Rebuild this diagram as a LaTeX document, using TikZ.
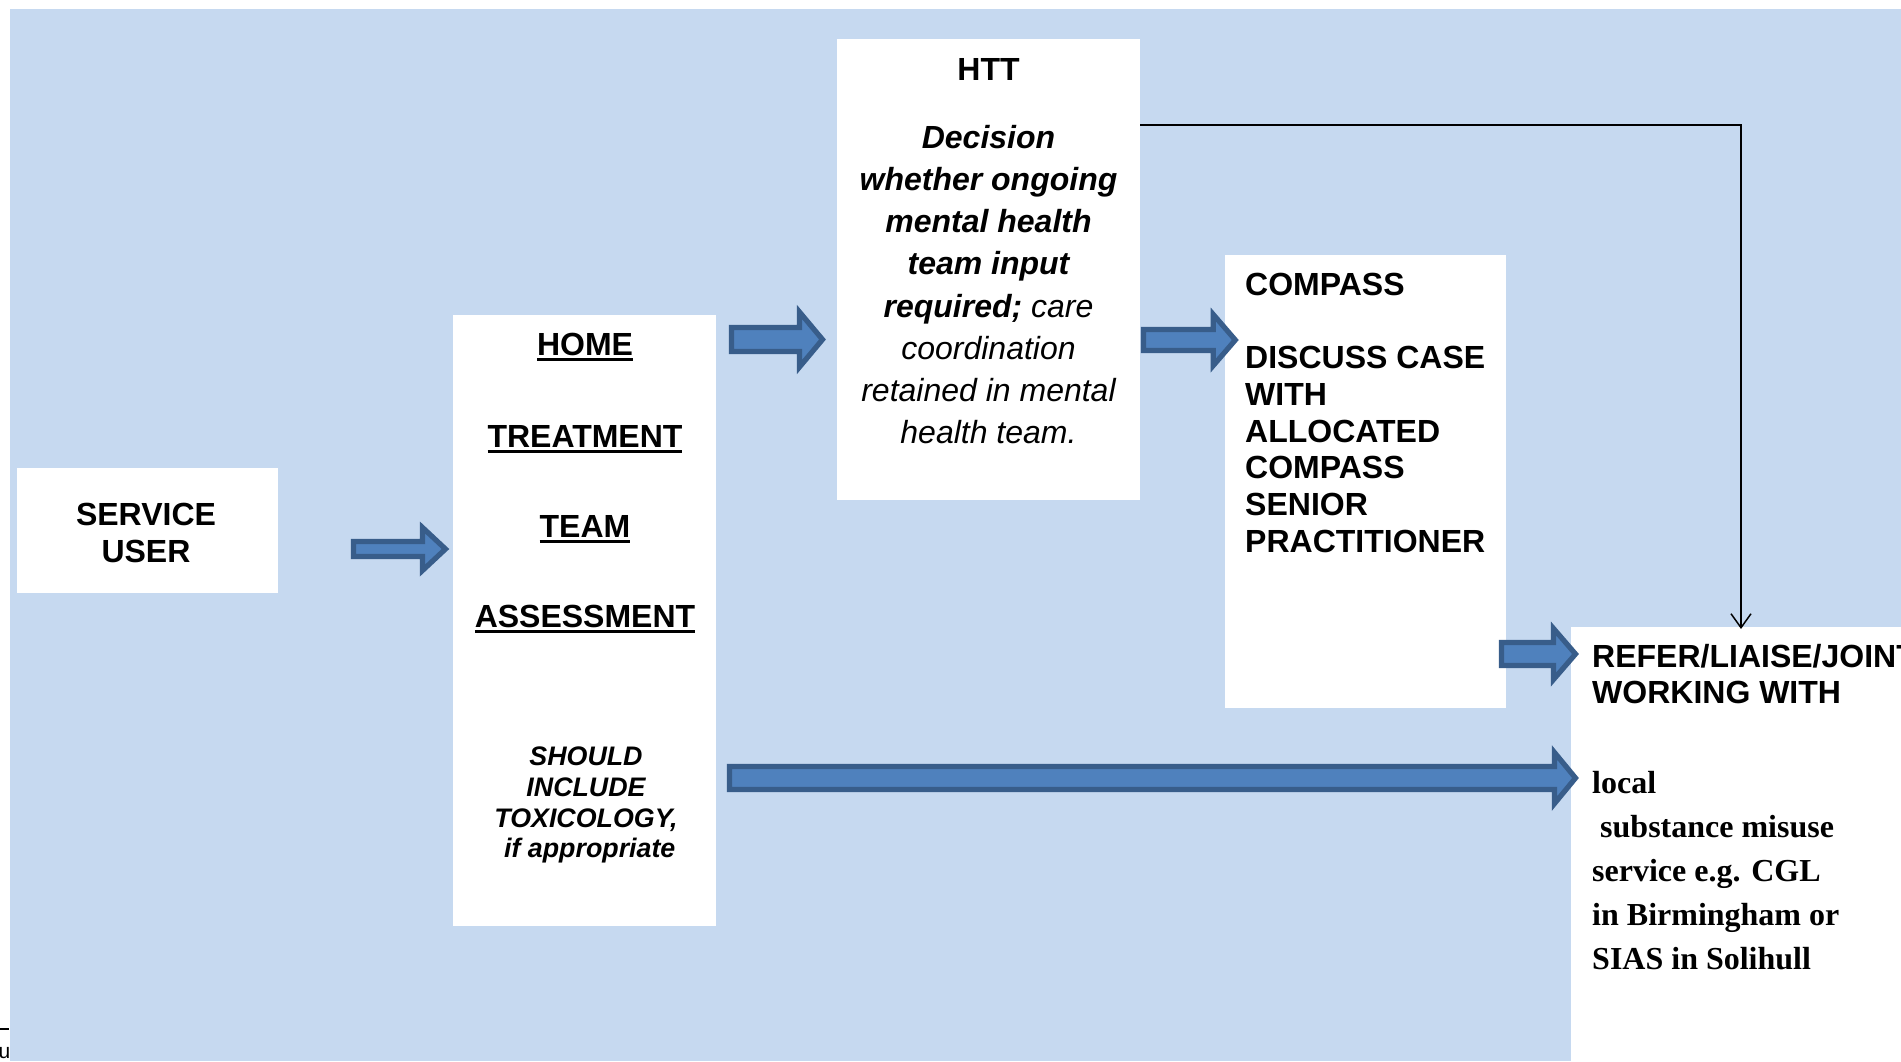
\documentclass[tikz,border=0pt]{standalone}
\usepackage{fontspec}
\setmainfont{Liberation Sans}
\newfontfamily\timesfam{Liberation Serif}
\usetikzlibrary{calc,arrows.meta}

\definecolor{bgblue}{HTML}{C6D9F0}
\definecolor{arrfill}{HTML}{4F81BD}
\definecolor{arrline}{HTML}{385D8A}

% word with a heavy underline just below the baseline
\newcommand\ulword[1]{\setbox0\hbox{#1}\rlap{\vrule height -2.8pt depth 6.3pt width \wd0}\box0}

% wide block arrow: #1 start, #2 tip, #3 shaft half height, #4 head half height, #5 head length
\newcommand\blockarrow[5]{%
  \draw[blockarr] let \p1=(#1), \p2=(#2) in
    (\x1,\y2+#3pt) -- (\x2-#5pt,\y2+#3pt) -- (\x2-#5pt,\y2+#4pt) -- (\x2,\y2)
    -- (\x2-#5pt,\y2-#4pt) -- (\x2-#5pt,\y2-#3pt) -- (\x1,\y2-#3pt) -- cycle;}

\begin{document}
\begin{tikzpicture}[x=1pt,y=-1pt,
  box/.style={fill=white, draw=none, inner sep=0pt, anchor=north west},
  blockarr/.style={fill=arrfill, draw=arrline, line width=5.2pt, line join=miter},
  hdr/.style={font=\fontsize{32}{38}\selectfont\bfseries, inner sep=0pt},
  bi/.style={font=\fontsize{32}{38}\selectfont\bfseries\itshape, inner sep=0pt, anchor=base},
  it/.style={font=\fontsize{32}{38}\selectfont\itshape, inner sep=0pt, anchor=base},
  small/.style={font=\fontsize{26.8}{31}\selectfont\bfseries\itshape, inner sep=0pt, anchor=base},
  serif/.style={font=\fontsize{32}{44}\selectfont\timesfam\bfseries, inner sep=0pt, anchor=base west},
  thinline/.style={line width=1.5pt, draw=black}
]
\useasboundingbox (0,0) rectangle (1901,1061);
\fill[white] (0,0) rectangle (1901,1061);

% edge of the neighbouring page
\draw[line width=1.3pt] (0,1029) -- (9,1029);
\node[anchor=base west, inner sep=0pt, font=\fontsize{21}{25}\selectfont] (stub) at (-1.5,1058) {u};

\fill[bgblue] (10,9) rectangle (1901,1061);

% boxes
\node[box, minimum width=261pt, minimum height=125pt] (svc) at (17,468) {};
\node[box, minimum width=263pt, minimum height=611pt] (home) at (453,315) {};
\node[box, minimum width=303pt, minimum height=461pt] (htt) at (837,39) {};
\node[box, minimum width=281pt, minimum height=453pt] (cmp) at (1225,255) {};
\node[box, minimum width=360pt, minimum height=460pt] (refer) at (1571,627) {};

% service user
\node[hdr, anchor=base] (svc1) at (146,525) {SERVICE};
\node[hdr, anchor=base] (svc2) at (146,562) {USER};

% home treatment team assessment
\node[hdr, anchor=base] (home1) at (585,355) {\ulword{HOME}};
\node[hdr, anchor=base] (home2) at (585,447) {\ulword{TREATMENT}};
\node[hdr, anchor=base] (home3) at (585,537) {\ulword{TEAM}};
\node[hdr, anchor=base] (home4) at (585,627) {\ulword{ASSESSMENT}};
\node[small] (tox1) at (586,765) {SHOULD};
\node[small] (tox2) at (586,796) {INCLUDE};
\node[small] (tox3) at (586,827) {TOXICOLOGY,};
\node[small] (tox4) at (586,857) {\hspace*{.28em}if appropriate};

% HTT
\node[hdr, anchor=base] (htt0) at (988.5,80) {HTT};
\node[bi] (htt1) at (988.5,148) {Decision};
\node[bi] (htt2) at (988.5,190) {whether ongoing};
\node[bi] (htt3) at (988.5,232) {mental health};
\node[bi] (htt4) at (988.5,274) {team input};
\node[bi] (htt5) at (988.5,317) {required;\mdseries\ care};
\node[it] (htt6) at (988.5,359) {coordination};
\node[it] (htt7) at (988.5,401) {retained in mental};
\node[it] (htt8) at (988.5,443) {health team.};

% COMPASS
\node[hdr, anchor=base west] (cmp1) at (1245,295) {COMPASS};
\node[hdr, anchor=base west] (cmp2) at (1245,368) {DISCUSS CASE};
\node[hdr, anchor=base west] (cmp3) at (1245,405) {WITH};
\node[hdr, anchor=base west] (cmp4) at (1245,442) {ALLOCATED};
\node[hdr, anchor=base west] (cmp5) at (1245,478) {COMPASS};
\node[hdr, anchor=base west] (cmp6) at (1245,515) {SENIOR};
\node[hdr, anchor=base west] (cmp7) at (1245,552) {PRACTITIONER};

% refer / liaise
\node[hdr, anchor=base west] (ref1) at (1592,667) {REFER/LIAISE/JOINT};
\node[hdr, anchor=base west] (ref2) at (1592,703) {WORKING WITH};
\node[serif] (loc1) at (1592,793) {local};
\node[serif] (loc2) at (1592,837) {\hspace*{.25em}substance misuse};
\node[serif] (loc3) at (1592,881) {service e.g. CGL};
\node[serif] (loc4) at (1592,925) {in Birmingham or};
\node[serif] (loc5) at (1592,969) {SIAS in Solihull};

% block arrow end points
\coordinate (a1s) at (353.5,549);  \coordinate (a1t) at (445.5,549);
\coordinate (a2s) at (731.5,339.5); \coordinate (a2t) at (822.5,339.5);
\coordinate (a3s) at (1143.5,340); \coordinate (a3t) at (1235.3,340);
\coordinate (a4s) at (1501.5,654); \coordinate (a4t) at (1575.5,654);
\coordinate (a5s) at (729.5,778);  \coordinate (a5t) at (1575.5,778);

\blockarrow{a1s}{a1t}{7.5}{21.5}{23}
\blockarrow{a2s}{a2t}{12}{27.5}{23}
\blockarrow{a3s}{a3t}{10.5}{25.5}{22}
\blockarrow{a4s}{a4t}{11.5}{25.5}{22}
\blockarrow{a5s}{a5t}{11.5}{25.5}{21}

% direct route from HTT to referral
\coordinate (bend) at (1741,125);
\draw[thinline, -{Straight Barb[length=14pt,width=20pt,line width=1.5pt]}]
  (htt.east |- bend) -- (bend) -- ([yshift=-2pt]bend |- refer.north);
\end{tikzpicture}
\end{document}
